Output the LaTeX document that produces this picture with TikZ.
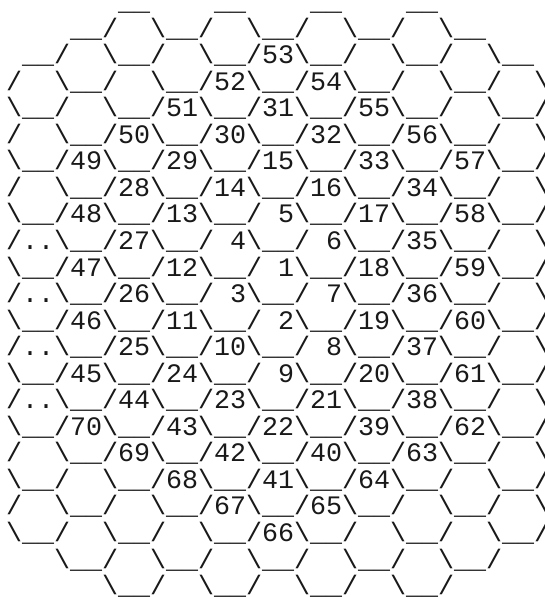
\documentclass[tikz,border=0pt]{standalone}
\usepackage{fontspec}
\setmonofont{Liberation Mono}
\newcommand\xb{\textbackslash}
\newcommand\xu{\_\_}
\newcommand\hexfont{\fontsize{26.67pt}{26.55pt}\selectfont\ttfamily}
\tikzset{hexrow/.style={anchor=base west, inner sep=0pt, outer sep=0pt, font=\hexfont, text=black!90}}
\begin{document}
\begin{tikzpicture}
\useasboundingbox (0,0) rectangle (544pt,-597pt);
\fill[white] (0,0) rectangle (544pt,-597pt);
\def\bl#1{-(10.5pt+26.55pt*#1)}
\node[hexrow] (r0)  at ({6pt+16pt*7},{\bl{0}})  {\xu~~~~\xu~~~~\xu~~~~\xu};
\node[hexrow] (r1)  at ({6pt+16pt*4},{\bl{1}})  {\xu/~~\xb\xu/~~\xb\xu/~~\xb\xu/~~\xb\xu};
\node[hexrow] (r2)  at ({6pt+16pt*1},{\bl{2}})  {\xu/~~\xb\xu/~~\xb\xu/53\xb\xu/~~\xb\xu/~~\xb\xu};
\node[hexrow] (r3)  at (6pt,{\bl{3}})  {/~~\xb\xu/~~\xb\xu/52\xb\xu/54\xb\xu/~~\xb\xu/~~\xb};
\node[hexrow] (r4)  at (6pt,{\bl{4}})  {\xb\xu/~~\xb\xu/51\xb\xu/31\xb\xu/55\xb\xu/~~\xb\xu/};
\node[hexrow] (r5)  at (6pt,{\bl{5}})  {/~~\xb\xu/50\xb\xu/30\xb\xu/32\xb\xu/56\xb\xu/~~\xb};
\node[hexrow] (r6)  at (6pt,{\bl{6}})  {\xb\xu/49\xb\xu/29\xb\xu/15\xb\xu/33\xb\xu/57\xb\xu/};
\node[hexrow] (r7)  at (6pt,{\bl{7}})  {/~~\xb\xu/28\xb\xu/14\xb\xu/16\xb\xu/34\xb\xu/~~\xb};
\node[hexrow] (r8)  at (6pt,{\bl{8}})  {\xb\xu/48\xb\xu/13\xb\xu/~5\xb\xu/17\xb\xu/58\xb\xu/};
\node[hexrow] (r9)  at (6pt,{\bl{9}})  {/..\xb\xu/27\xb\xu/~4\xb\xu/~6\xb\xu/35\xb\xu/~~\xb};
\node[hexrow] (r10) at (6pt,{\bl{10}}) {\xb\xu/47\xb\xu/12\xb\xu/~1\xb\xu/18\xb\xu/59\xb\xu/};
\node[hexrow] (r11) at (6pt,{\bl{11}}) {/..\xb\xu/26\xb\xu/~3\xb\xu/~7\xb\xu/36\xb\xu/~~\xb};
\node[hexrow] (r12) at (6pt,{\bl{12}}) {\xb\xu/46\xb\xu/11\xb\xu/~2\xb\xu/19\xb\xu/60\xb\xu/};
\node[hexrow] (r13) at (6pt,{\bl{13}}) {/..\xb\xu/25\xb\xu/10\xb\xu/~8\xb\xu/37\xb\xu/~~\xb};
\node[hexrow] (r14) at (6pt,{\bl{14}}) {\xb\xu/45\xb\xu/24\xb\xu/~9\xb\xu/20\xb\xu/61\xb\xu/};
\node[hexrow] (r15) at (6pt,{\bl{15}}) {/..\xb\xu/44\xb\xu/23\xb\xu/21\xb\xu/38\xb\xu/~~\xb};
\node[hexrow] (r16) at (6pt,{\bl{16}}) {\xb\xu/70\xb\xu/43\xb\xu/22\xb\xu/39\xb\xu/62\xb\xu/};
\node[hexrow] (r17) at (6pt,{\bl{17}}) {/~~\xb\xu/69\xb\xu/42\xb\xu/40\xb\xu/63\xb\xu/~~\xb};
\node[hexrow] (r18) at (6pt,{\bl{18}}) {\xb\xu/~~\xb\xu/68\xb\xu/41\xb\xu/64\xb\xu/~~\xb\xu/};
\node[hexrow] (r19) at (6pt,{\bl{19}}) {/~~\xb\xu/~~\xb\xu/67\xb\xu/65\xb\xu/~~\xb\xu/~~\xb};
\node[hexrow] (r20) at (6pt,{\bl{20}}) {\xb\xu/~~\xb\xu/~~\xb\xu/66\xb\xu/~~\xb\xu/~~\xb\xu/};
\node[hexrow] (r21) at ({6pt+16pt*3},{\bl{21}}) {\xb\xu/~~\xb\xu/~~\xb\xu/~~\xb\xu/~~\xb\xu/};
\node[hexrow] (r22) at ({6pt+16pt*6},{\bl{22}}) {\xb\xu/~~\xb\xu/~~\xb\xu/~~\xb\xu/};
\end{tikzpicture}
\end{document}
